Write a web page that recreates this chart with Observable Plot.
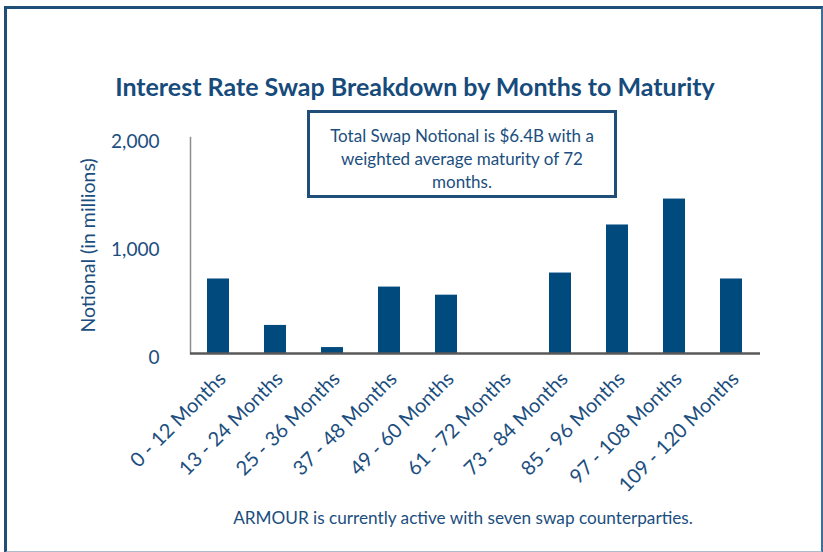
<!DOCTYPE html>
<html>
<head>
<meta charset="utf-8">
<script src="https://cdn.jsdelivr.net/npm/d3@7"></script>
<script src="https://cdn.jsdelivr.net/npm/@observablehq/plot@0.6"></script>
<style>
  html, body { margin: 0; padding: 0; background: #fff; }
  #wrap { position: relative; width: 823px; height: 552px; overflow: hidden; font-family: Lato, "Open Sans", sans-serif; }
  #frame { position: absolute; left: 4px; top: 6px; width: 814px; height: 542px;
           border-top: 3px solid #1f4e79; border-left: 3px solid #1f4e79;
           border-right: 2px solid #3a6f9f; border-bottom: 2px solid #aebdcc; }
  #title { position: absolute; left: 0; width: 830px; top: 71px; text-align: center;
           font-weight: bold; font-size: 25px; color: #174b7b; }
  #note { position: absolute; left: 307px; top: 110px; width: 304px; height: 82px;
          border: 3px solid #1f4e79; box-sizing: content-box; text-align: center;
          font-size: 17px; line-height: 23px; color: #1b4e7e; }
  #note div { margin-top: 11px; }
  #caption { position: absolute; left: 0; width: 926px; top: 507px; text-align: center;
             font-size: 17.2px; color: #1b4e7e; }
  #chart { position: absolute; left: 0; top: 120px; }
</style>
</head>
<body>
<div id="wrap">
  <div id="frame"></div>
  <div id="title">Interest Rate Swap Breakdown by Months to Maturity</div>
  <div id="chart"></div>
  <div id="note"><div>Total Swap Notional is $6.4B with a<br>weighted average maturity of 72<br>months.</div></div>
  <div id="caption">ARMOUR is currently active with seven swap counterparties.</div>
</div>
<script>
const categories = ["0 - 12 Months", "13 - 24 Months", "25 - 36 Months", "37 - 48 Months", "49 - 60 Months",
  "61 - 72 Months", "73 - 84 Months", "85 - 96 Months", "97 - 108 Months", "109 - 120 Months"];
const notional = [690, 260, 55, 615, 540, 0, 745, 1190, 1430, 690];
const yTicks = [0, 1000, 2000];

const data = categories.map((c, i) => ({category: c, value: notional[i]}));
const textColor = "#1b4e7e";

const chart = Plot.plot({
  width: 823,
  height: 380,
  marginLeft: 190,
  marginRight: 63,
  marginTop: 17,
  marginBottom: 147,
  style: {fontFamily: "Lato, 'Open Sans', sans-serif", color: textColor, background: "transparent", overflow: "visible"},
  x: {domain: categories, paddingInner: 0.614, paddingOuter: 0.307},
  y: {domain: [0, 2000]},
  marks: [
    Plot.frame({anchor: "left", stroke: "#8c8c8c", strokeWidth: 1.5}),
    Plot.barY(data, {x: "category", y: "value", fill: "#004a7e"}),
    Plot.ruleY([0], {stroke: "#595959", strokeWidth: 2.5}),
    Plot.axisY({ticks: yTicks, tickFormat: d3.format(","), tickSize: 0, tickPadding: 31, fontSize: 19, dy: 4, label: null, fill: textColor}),
    Plot.text(["Notional (in millions)"], {frameAnchor: "left", textAnchor: "middle", dx: -102, rotate: -90, fontSize: 19.5, fill: textColor}),
    Plot.axisX({tickRotate: -45, tickSize: 0, tickPadding: 22, fontSize: 20, label: null, fill: textColor, dx: 4})
  ]
});
document.getElementById("chart").appendChild(chart);
</script>
</body>
</html>
